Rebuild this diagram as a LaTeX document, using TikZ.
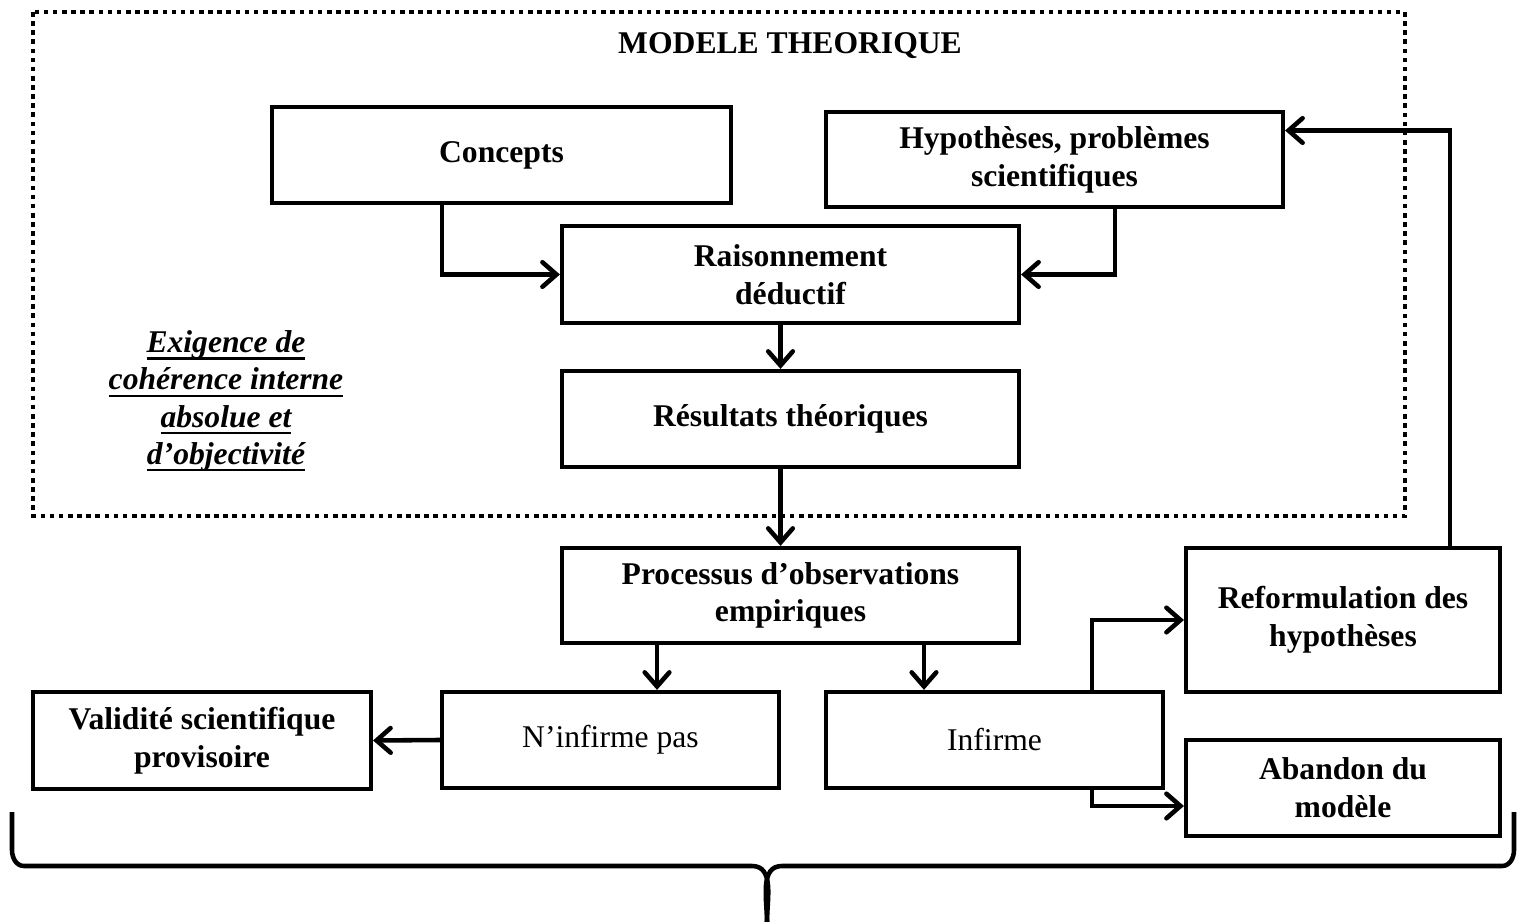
\documentclass[tikz,border=0pt]{standalone}
\usepackage{fontspec}
\setmainfont{Liberation Serif}
\usepackage{tikz}
\usetikzlibrary{arrows.meta}

\newcommand{\souligne}[1]{\leavevmode\setbox0=\hbox{#1}\rlap{\rule[-4pt]{\wd0}{1.3pt}}\box0}

\tikzset{
  boite/.style={draw, line width=2.4pt, minimum height=1.92cm, align=center,
                font=\fontsize{18}{21.5}\selectfont\bfseries},
  fleche/.style={line width=2.6pt, -{Straight Barb[length=8pt,width=14pt,line cap=round]}},
}

\begin{document}
\begin{tikzpicture}[x=0.02cm, y=-0.02cm]
  \useasboundingbox (0,0) rectangle (1518,922);
  % cadre du modele
  \draw[line width=2.6pt, dash pattern=on 2.6pt off 2.6pt] (33,12) rectangle (1405,516);
  \node[font=\fontsize{18}{21.5}\selectfont\bfseries] (titre) at (790,46) {MODELE THEORIQUE};

  \node[boite, minimum width=9.18cm] (concepts) at (501.5,155) {Concepts};
  \node[boite, minimum width=9.14cm, minimum height=1.9cm] (hyp) at (1054.5,159.5) {Hypoth\`eses, probl\`emes\\scientifiques};
  \node[boite, minimum width=9.14cm, minimum height=1.94cm] (raison) at (790.5,274.5) {Raisonnement\\d\'eductif};
  \node[boite, minimum width=9.14cm] (result) at (790.5,419) {R\'esultats th\'eoriques};
  \node[boite, minimum width=9.14cm, minimum height=1.9cm] (proc) at (790.5,595.5) {Processus d’observations\\empiriques};
  \node[boite, minimum width=6.74cm, font=\fontsize{18}{21.5}\selectfont] (ninf) at (610.5,740) {N’infirme pas};
  \node[boite, minimum width=6.74cm, font=\fontsize{18}{21.5}\selectfont] (inf) at (994.5,740) {Infirme};
  \node[boite, minimum width=6.76cm, minimum height=1.94cm] (valid) at (202,740.5) {Validit\'e scientifique\\provisoire};
  \node[boite, minimum width=6.28cm, minimum height=2.88cm] (reform) at (1343,620) {Reformulation des\\hypoth\`eses};
  \node[boite, minimum width=6.28cm] (aband) at (1343,788) {Abandon du\\mod\`ele};

  \node[align=center, font=\fontsize{18}{21.2}\selectfont\bfseries\itshape] (exig) at (226,401)
    {\souligne{Exigence de}\\\souligne{coh\'erence interne}\\\souligne{absolue et}\\\souligne{d’objectivit\'e}};

  % fleches
  \draw[fleche] ([xshift=-1.19cm]concepts.south) |- (raison.west);
  \draw[fleche] ([xshift=1.21cm]hyp.south) |- (raison.east);
  \draw[fleche] ([xshift=-0.2cm]raison.south) -- ([xshift=-0.2cm]result.north);
  \draw[fleche] ([xshift=-0.2cm]result.south) -- ([xshift=-0.2cm]proc.north);
  \draw[fleche] ([xshift=-2.67cm]proc.south) -- ([xshift=-2.67cm]proc.south |- ninf.north);
  \draw[fleche] ([xshift=2.67cm]proc.south) -- ([xshift=2.67cm]proc.south |- inf.north);
  \draw[fleche] (ninf.west) -- (valid.east);
  \draw[fleche] ([xshift=1.95cm]inf.north) |- (reform.west);
  \draw[fleche] ([xshift=1.95cm]inf.south) |- ([yshift=-0.36cm]aband.west);
  \draw[fleche] ([xshift=2.14cm]reform.north) |- ([yshift=0.58cm]hyp.east);

  % accolade
  \draw[line width=2.6pt] (12,812) -- (12,850) to[out=-90,in=180] (24,866) -- (752,866)
    to[out=0,in=90] (767,922);
  \draw[line width=2.6pt] (767,922) to[out=90,in=180] (782,866) -- (1502,866)
    to[out=0,in=-90] (1514,850) -- (1514,812);
\end{tikzpicture}
\end{document}
